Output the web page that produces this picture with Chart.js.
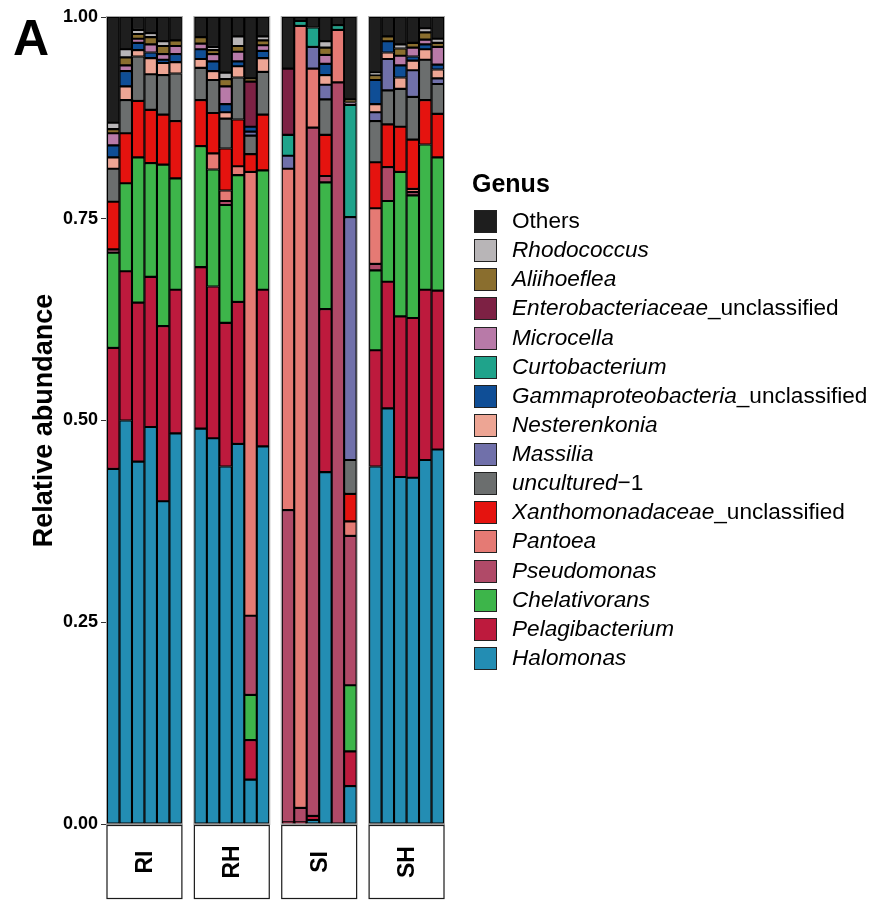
<!DOCTYPE html>
<html>
<head>
<meta charset="utf-8">
<script src="https://cdn.jsdelivr.net/npm/chart.js@4.4.1/dist/chart.umd.min.js"></script>
<style>
  html, body { margin: 0; padding: 0; background: #fff; }
  #wrap { position: relative; width: 869px; height: 900px; overflow: hidden;
          font-family: "Liberation Sans", Arial, sans-serif; color: #000; }
  #chart { position: absolute; left: 0; top: 0; }
  #tag { position: absolute; left: 13px; top: 13px; font-size: 50px; line-height: 50px; font-weight: bold; }
  #legend { position: absolute; left: 0; top: 0; width: 869px; height: 900px; pointer-events: none; }
  .lg-title { position: absolute; left: 472px; top: 168px; font-size: 25px; line-height: 30px; font-weight: bold; }
  .lg-row { position: absolute; left: 474px; height: 22px; white-space: nowrap; }
  .lg-key { position: absolute; left: 0; top: 0; width: 21px; height: 21px; border: 1px solid #222; }
  .lg-text { position: absolute; left: 38px; top: 0; font-size: 22.6px; line-height: 22px; }
  .lg-text i { font-style: italic; }
</style>
</head>
<body>
<div id="wrap">
  <canvas id="chart" width="869" height="900"></canvas>
  <div id="tag">A</div>
  <div id="legend"></div>
</div>
<script>
// Sample groups (facets) and the six samples in each
const groups = ['RI', 'RH', 'SI', 'SH'];
const samplesPerGroup = 6;

// Relative abundance per genus, samples ordered RI1-6, RH1-6, SI1-6, SH1-6
const halomonas      = [0.440, 0.500, 0.449, 0.492, 0.400, 0.484,  0.490, 0.478, 0.443, 0.471, 0.055, 0.468,  0.000, 0.000, 0.005, 0.436, 0.000, 0.047,  0.443, 0.515, 0.430, 0.429, 0.451, 0.464];
const pelagibacterium= [0.150, 0.185, 0.197, 0.186, 0.217, 0.178,  0.200, 0.188, 0.178, 0.176, 0.049, 0.194,  0.002, 0.002, 0.005, 0.202, 0.000, 0.043,  0.144, 0.157, 0.199, 0.198, 0.211, 0.197];
const chelativorans  = [0.118, 0.109, 0.180, 0.141, 0.200, 0.138,  0.150, 0.145, 0.146, 0.157, 0.056, 0.148,  0.000, 0.000, 0.000, 0.157, 0.000, 0.082,  0.099, 0.100, 0.179, 0.152, 0.180, 0.165];
const pseudomonas    = [0.004, 0.000, 0.000, 0.000, 0.000, 0.000,  0.000, 0.000, 0.005, 0.000, 0.098, 0.000,  0.387, 0.018, 0.853, 0.008, 0.919, 0.185,  0.008, 0.042, 0.000, 0.004, 0.000, 0.000];
const pantoea        = [0.000, 0.000, 0.000, 0.000, 0.000, 0.000,  0.000, 0.020, 0.013, 0.011, 0.550, 0.000,  0.423, 0.969, 0.073, 0.000, 0.065, 0.018,  0.069, 0.000, 0.000, 0.004, 0.000, 0.000];
const xanthomonad    = [0.059, 0.062, 0.070, 0.066, 0.062, 0.071,  0.057, 0.050, 0.052, 0.058, 0.022, 0.069,  0.000, 0.000, 0.000, 0.051, 0.000, 0.034,  0.057, 0.053, 0.056, 0.061, 0.055, 0.054];
const uncultured1    = [0.041, 0.041, 0.055, 0.044, 0.049, 0.059,  0.040, 0.041, 0.037, 0.052, 0.023, 0.053,  0.000, 0.000, 0.000, 0.044, 0.000, 0.042,  0.051, 0.042, 0.047, 0.053, 0.050, 0.037];
const massilia       = [0.000, 0.000, 0.000, 0.000, 0.000, 0.000,  0.000, 0.000, 0.000, 0.000, 0.005, 0.000,  0.016, 0.000, 0.027, 0.018, 0.000, 0.301,  0.011, 0.039, 0.000, 0.033, 0.000, 0.007];
const nesterenkonia  = [0.014, 0.017, 0.008, 0.020, 0.015, 0.014,  0.011, 0.011, 0.008, 0.014, 0.000, 0.017,  0.000, 0.000, 0.000, 0.012, 0.000, 0.000,  0.010, 0.008, 0.014, 0.012, 0.013, 0.011];
const gammaproteo    = [0.015, 0.019, 0.009, 0.007, 0.004, 0.010,  0.012, 0.012, 0.010, 0.006, 0.006, 0.009,  0.000, 0.000, 0.000, 0.014, 0.000, 0.000,  0.030, 0.014, 0.015, 0.005, 0.006, 0.006];
const curtobacterium = [0.000, 0.000, 0.000, 0.000, 0.000, 0.000,  0.000, 0.000, 0.000, 0.000, 0.000, 0.000,  0.026, 0.006, 0.024, 0.000, 0.006, 0.139,  0.000, 0.000, 0.000, 0.000, 0.000, 0.000];
const microcella     = [0.015, 0.007, 0.005, 0.010, 0.007, 0.010,  0.007, 0.009, 0.022, 0.012, 0.000, 0.007,  0.000, 0.000, 0.000, 0.011, 0.000, 0.003,  0.000, 0.000, 0.012, 0.011, 0.006, 0.022];
const enterobact     = [0.000, 0.000, 0.000, 0.000, 0.000, 0.000,  0.000, 0.000, 0.000, 0.000, 0.056, 0.000,  0.082, 0.000, 0.000, 0.000, 0.000, 0.000,  0.000, 0.000, 0.000, 0.000, 0.000, 0.000];
const aliihoeflea    = [0.005, 0.010, 0.006, 0.009, 0.010, 0.007,  0.008, 0.005, 0.009, 0.007, 0.004, 0.006,  0.000, 0.000, 0.000, 0.009, 0.000, 0.004,  0.006, 0.006, 0.009, 0.006, 0.009, 0.005];
const rhodococcus    = [0.008, 0.010, 0.005, 0.005, 0.006, 0.000,  0.000, 0.004, 0.008, 0.012, 0.000, 0.005,  0.000, 0.000, 0.000, 0.008, 0.000, 0.000,  0.003, 0.000, 0.005, 0.000, 0.005, 0.005];
const others         = [0.131, 0.040, 0.016, 0.020, 0.030, 0.029,  0.025, 0.037, 0.069, 0.024, 0.076, 0.024,  0.064, 0.005, 0.013, 0.030, 0.010, 0.102,  0.069, 0.024, 0.034, 0.032, 0.014, 0.027];

// Y axis tick values
const yTicks = [0, 0.25, 0.5, 0.75, 1];

// Genera in stacking order, bottom to top
const genera = [
  { name: 'Halomonas',                          values: halomonas,       color: '#238db3' },
  { name: 'Pelagibacterium',                    values: pelagibacterium, color: '#bd1a3d' },
  { name: 'Chelativorans',                      values: chelativorans,   color: '#3db54a' },
  { name: 'Pseudomonas',                        values: pseudomonas,     color: '#b04a68' },
  { name: 'Pantoea',                            values: pantoea,         color: '#e57a74' },
  { name: 'Xanthomonadaceae_unclassified',      values: xanthomonad,     color: '#e5130f' },
  { name: 'uncultured\u22121',                  values: uncultured1,     color: '#6b6e6e' },
  { name: 'Massilia',                           values: massilia,        color: '#7070aa' },
  { name: 'Nesterenkonia',                      values: nesterenkonia,   color: '#eda594' },
  { name: 'Gammaproteobacteria_unclassified',   values: gammaproteo,     color: '#0f4e96' },
  { name: 'Curtobacterium',                     values: curtobacterium,  color: '#1fa38b' },
  { name: 'Microcella',                         values: microcella,      color: '#b87aa8' },
  { name: 'Enterobacteriaceae_unclassified',    values: enterobact,      color: '#7d2144' },
  { name: 'Aliihoeflea',                        values: aliihoeflea,     color: '#8a6e2e' },
  { name: 'Rhodococcus',                        values: rhodococcus,     color: '#b8b5b7' },
  { name: 'Others',                             values: others,          color: '#1e1e1e' }
];

const FONT = '"Liberation Sans", Arial, sans-serif';

// Category slots: six samples per group, with an empty slot between facets
const xLabels = [];
const slotOfSample = [];
groups.forEach((g, gi) => {
  for (let s = 1; s <= samplesPerGroup; s++) {
    slotOfSample.push(xLabels.length);
    xLabels.push(g + s);
  }
  if (gi < groups.length - 1) xLabels.push('');
});

function toSlots(values) {
  const out = new Array(xLabels.length).fill(null);
  values.forEach((v, i) => { out[slotOfSample[i]] = v; });
  return out;
}

const datasets = genera.map(g => ({
  label: g.name,
  data: toSlots(g.values),
  backgroundColor: g.color,
  borderColor: '#000',
  borderWidth: 1.4,
  borderSkipped: false,
  barPercentage: 1,
  categoryPercentage: 1
}));

// Panel frames and facet strips below the plot
const facetPlugin = {
  id: 'facets',
  afterDatasetsDraw(chart) {
    const { ctx, chartArea } = chart;
    const slotW = (chartArea.right - chartArea.left) / xLabels.length;
    ctx.save();
    groups.forEach((g, gi) => {
      const first = slotOfSample[gi * samplesPerGroup];
      const left = chartArea.left + first * slotW;
      const w = samplesPerGroup * slotW;
      // panel frame
      ctx.strokeStyle = '#a8a8a8';
      ctx.lineWidth = 1;
      ctx.strokeRect(left - 0.5, chartArea.top - 0.5, w + 1, chartArea.bottom - chartArea.top + 1);
      // strip box
      const sTop = chartArea.bottom + 1.5, sBot = 898.5;
      ctx.fillStyle = '#fff';
      ctx.fillRect(left, sTop, w, sBot - sTop);
      ctx.strokeStyle = '#1a1a1a';
      ctx.lineWidth = 1.2;
      ctx.strokeRect(left, sTop, w, sBot - sTop);
      // strip label, rotated
      ctx.save();
      ctx.translate(left + w / 2, (sTop + sBot) / 2);
      ctx.rotate(-Math.PI / 2);
      ctx.fillStyle = '#000';
      ctx.font = 'bold 23px ' + FONT;
      ctx.textAlign = 'center';
      ctx.textBaseline = 'middle';
      ctx.fillText(g, 0, 1);
      ctx.restore();
    });
    ctx.restore();
  }
};

new Chart(document.getElementById('chart'), {
  type: 'bar',
  data: { labels: xLabels, datasets },
  options: {
    responsive: false,
    animation: false,
    events: [],
    layout: { padding: { top: 17, bottom: 76, left: 0, right: 425 } },
    plugins: { legend: { display: false }, tooltip: { enabled: false } },
    scales: {
      x: { stacked: true, display: false },
      y: {
        stacked: true,
        min: 0,
        max: 1,
        afterFit(scale) { scale.width = 107; },
        afterBuildTicks(scale) { scale.ticks = yTicks.map(v => ({ value: v })); },
        ticks: {
          callback: v => Number(v).toFixed(2),
          color: '#000',
          padding: 3,
          font: { family: FONT, size: 18, weight: 'bold' }
        },
        grid: { drawOnChartArea: false, drawTicks: true, tickLength: 6, tickColor: '#333', tickWidth: 1 },
        border: { display: false },
        title: {
          display: true,
          text: 'Relative abundance',
          color: '#000',
          padding: { top: 28, bottom: 0 },
          font: { family: FONT, size: 27, weight: 'bold' }
        }
      }
    }
  },
  plugins: [facetPlugin]
});

// Legend, top entry is the last stacked genus
const legend = document.getElementById('legend');
const title = document.createElement('div');
title.className = 'lg-title';
title.textContent = 'Genus';
legend.appendChild(title);

genera.slice().reverse().forEach((g, i) => {
  const row = document.createElement('div');
  row.className = 'lg-row';
  row.style.top = (210 + i * 29.13) + 'px';
  const key = document.createElement('div');
  key.className = 'lg-key';
  key.style.background = g.color;
  row.appendChild(key);
  const text = document.createElement('div');
  text.className = 'lg-text';
  if (g.name === 'Others') {
    text.textContent = g.name;
  } else {
    const m = g.name.match(/^([^_\u2212]+)(.*)$/);
    const it = document.createElement('i');
    it.textContent = m[1];
    text.appendChild(it);
    if (m[2]) text.appendChild(document.createTextNode(m[2]));
  }
  row.appendChild(text);
  legend.appendChild(row);
});
</script>
</body>
</html>
